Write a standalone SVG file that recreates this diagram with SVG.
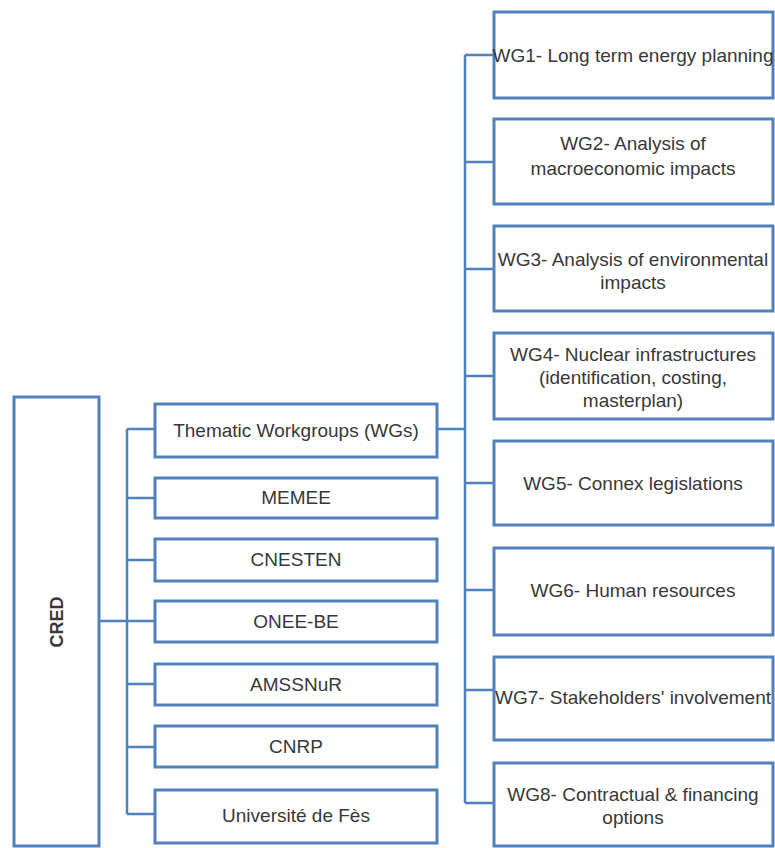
<svg xmlns="http://www.w3.org/2000/svg" width="775" height="848" viewBox="0 0 775 848">
<style>
.box{fill:#ffffff;stroke:#4f81bd;stroke-width:3}
.ln{fill:none;stroke:#4f81bd;stroke-width:2.5}
text{font-family:"Liberation Sans",Arial,sans-serif;font-size:19px;fill:#383838;text-anchor:middle}
.b{font-weight:bold;font-size:18px}
</style>
<rect width="775" height="848" fill="#ffffff"/>
<g id="connectors">
<path class="ln" d="M99,621 H127 M127,429 V814 M127,429 H155 M127,498 H155 M127,560 H155 M127,621 H155 M127,684 H155 M127,747 H155 M127,814 H155"/>
<path class="ln" d="M437,429 H465 M465,55 V803 M465,55 H494 M465,162 H494 M465,269 H494 M465,376 H494 M465,483 H494 M465,590 H494 M465,690 H494 M465,803 H494"/>
</g>
<g id="cred"><rect class="box" x="14" y="397" width="85" height="449"/><text class="b" transform="translate(63,622) rotate(-90)">CRED</text></g>
<g id="thematic"><rect class="box" x="155" y="404" width="282" height="53"/><text x="296" y="437">Thematic Workgroups (WGs)</text></g>
<g id="memee"><rect class="box" x="155" y="478" width="282" height="40"/><text x="296" y="504">MEMEE</text></g>
<g id="cnesten"><rect class="box" x="155" y="539" width="282" height="42"/><text x="296" y="566">CNESTEN</text></g>
<g id="onee"><rect class="box" x="155" y="601" width="282" height="41"/><text x="296" y="628">ONEE-BE</text></g>
<g id="amssnur"><rect class="box" x="155" y="664" width="282" height="41"/><text x="296" y="691">AMSSNuR</text></g>
<g id="cnrp"><rect class="box" x="155" y="726" width="282" height="41"/><text x="296" y="753">CNRP</text></g>
<g id="univ"><rect class="box" x="155" y="790" width="282" height="53"/><text x="296" y="822">Université de Fès</text></g>
<g id="wg1"><rect class="box" x="494" y="12" width="279" height="86"/><text x="633" y="62">WG1- Long term energy planning</text></g>
<g id="wg2"><rect class="box" x="494" y="119" width="279" height="85"/><text x="633" y="150">WG2- Analysis of</text><text x="633" y="175">macroeconomic impacts</text></g>
<g id="wg3"><rect class="box" x="494" y="226" width="279" height="85"/><text x="633" y="266">WG3- Analysis of environmental</text><text x="633" y="289">impacts</text></g>
<g id="wg4"><rect class="box" x="494" y="333" width="279" height="86"/><text x="633" y="361">WG4- Nuclear infrastructures</text><text x="633" y="384">(identification, costing,</text><text x="633" y="407">masterplan)</text></g>
<g id="wg5"><rect class="box" x="494" y="441" width="279" height="84"/><text x="633" y="490">WG5- Connex legislations</text></g>
<g id="wg6"><rect class="box" x="494" y="548" width="279" height="87"/><text x="633" y="597">WG6- Human resources</text></g>
<g id="wg7"><rect class="box" x="494" y="657" width="279" height="83"/><text x="633" y="704">WG7- Stakeholders' involvement</text></g>
<g id="wg8"><rect class="box" x="494" y="763" width="279" height="83"/><text x="633" y="801">WG8- Contractual &amp; financing</text><text x="633" y="824">options</text></g>
</svg>
